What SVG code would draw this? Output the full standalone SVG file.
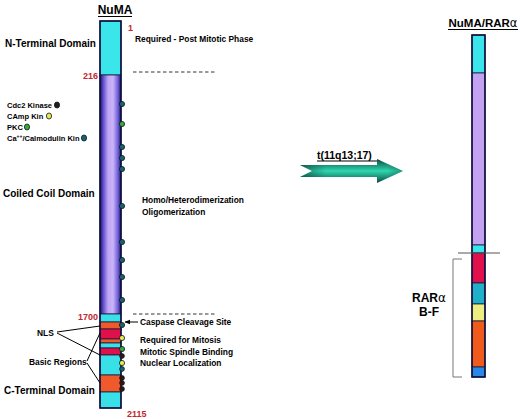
<svg xmlns="http://www.w3.org/2000/svg" width="520" height="419" viewBox="0 0 520 419">
<defs>
<linearGradient id="purp" x1="0" x2="1" y1="0" y2="0">
<stop offset="0" stop-color="#141460"/>
<stop offset="0.14" stop-color="#5a48c8"/>
<stop offset="0.38" stop-color="#bea6f4"/>
<stop offset="0.62" stop-color="#cab4f8"/>
<stop offset="0.86" stop-color="#6e5cd8"/>
<stop offset="1" stop-color="#141460"/>
</linearGradient>
<linearGradient id="arr" x1="0" x2="0" y1="0" y2="1">
<stop offset="0" stop-color="#0a4a40"/>
<stop offset="0.5" stop-color="#2fd6b0"/>
<stop offset="1" stop-color="#0a4a40"/>
</linearGradient>
<linearGradient id="arrh" x1="0" x2="1" y1="0" y2="0">
<stop offset="0" stop-color="#0a3a34" stop-opacity="0.6"/>
<stop offset="0.25" stop-color="#0a3a34" stop-opacity="0"/>
<stop offset="0.85" stop-color="#0a3a34" stop-opacity="0"/>
<stop offset="1" stop-color="#0a3a34" stop-opacity="0.4"/>
</linearGradient>
<marker id="ah" viewBox="0 0 10 10" refX="9" refY="5" markerWidth="6" markerHeight="6" orient="auto">
<path d="M0,1 L10,5 L0,9 z" fill="#000"/>
</marker>
</defs>
<style>
text{font-family:"Liberation Sans",Arial,sans-serif;font-weight:bold;fill:#000}
.num{fill:#c0282d;font-size:9px}
.lab{font-size:10px}
.note{font-size:8.4px}
.leg{font-size:7.5px}
.seg{stroke:#1a1a3a;stroke-width:0.8}
.dot{stroke:#0a1a20;stroke-width:0.8}
.dash{stroke:#000;stroke-width:0.8;stroke-dasharray:3.5,2.5;fill:none}
.ln{stroke:#000;stroke-width:1;fill:none}
</style>

<g id="numa">
<text x="115" y="14" font-size="12" text-anchor="middle">NuMA</text>
<line x1="98" y1="16.5" x2="132" y2="16.5" stroke="#000" stroke-width="1"/>
<rect x="100" y="21" width="21" height="54" fill="#3ae6ea" class="seg"/>
<rect x="100" y="75" width="21" height="239" fill="url(#purp)" class="seg"/>
<rect x="100" y="314" width="21" height="8" fill="#3ae0e8" class="seg"/>
<rect x="100" y="322" width="21" height="7" fill="#f05a2a" class="seg"/>
<rect x="100" y="329" width="21" height="10" fill="#e0104c" class="seg"/>
<rect x="100" y="339" width="21" height="4" fill="#f05a2a" class="seg"/>
<rect x="100" y="343" width="21" height="5" fill="#3ae0e8" class="seg"/>
<rect x="100" y="348" width="21" height="7" fill="#e0104c" class="seg"/>
<rect x="100" y="355" width="21" height="20" fill="#3ae0e8" class="seg"/>
<rect x="100" y="375" width="21" height="17" fill="#f05a2a" class="seg"/>
<rect x="100" y="392" width="21" height="16" fill="#3ae0e8" class="seg"/>
<rect x="100" y="21" width="21" height="387" fill="none" stroke="#101040" stroke-width="1.6"/>
</g>

<g id="sites">
<circle cx="122" cy="104" r="2.6" fill="#1e6070" class="dot"/>
<circle cx="122" cy="124" r="2.6" fill="#3aa838" class="dot"/>
<circle cx="122" cy="147" r="2.6" fill="#1e6070" class="dot"/>
<circle cx="122" cy="158" r="2.6" fill="#1e6070" class="dot"/>
<circle cx="122" cy="169" r="2.6" fill="#1e6070" class="dot"/>
<circle cx="122" cy="206" r="2.6" fill="#1e6070" class="dot"/>
<circle cx="122" cy="242" r="2.6" fill="#1e6070" class="dot"/>
<circle cx="122" cy="260" r="2.6" fill="#1e6070" class="dot"/>
<circle cx="122" cy="277" r="2.6" fill="#1e6070" class="dot"/>
<circle cx="122" cy="300" r="2.6" fill="#1e6070" class="dot"/>
<circle cx="122" cy="325" r="2.6" fill="#1e6070" class="dot"/>
<circle cx="122" cy="338" r="2.6" fill="#e8e850" class="dot"/>
<circle cx="122" cy="349" r="2.6" fill="#3aa838" class="dot"/>
<circle cx="122" cy="356" r="2.4" fill="#2a1a1a" class="dot"/>
<circle cx="122" cy="363" r="2.6" fill="#e8e850" class="dot"/>
<circle cx="122" cy="369" r="2.4" fill="#1e6070" class="dot"/>
<circle cx="122" cy="378" r="2.4" fill="#3a1010" class="dot"/>
<circle cx="122" cy="383" r="2.4" fill="#3a1010" class="dot"/>
<circle cx="122" cy="389" r="2.4" fill="#3a1010" class="dot"/>
</g>

<g id="legend">
<text x="7" y="108" class="leg">Cdc2 Kinase</text>
<ellipse cx="57" cy="105" rx="2.6" ry="3" fill="#2a1a1a" class="dot"/>
<text x="7" y="119" class="leg">CAmp Kin</text>
<ellipse cx="49" cy="116" rx="2.6" ry="3" fill="#e8e850" class="dot"/>
<text x="7" y="130" class="leg">PKC</text>
<ellipse cx="27" cy="127" rx="2.6" ry="3" fill="#3aa838" class="dot"/>
<text x="7" y="141" class="leg">Ca<tspan font-size="5" dy="-3">++</tspan><tspan dy="3">/Calmodulin Kin</tspan></text>
<ellipse cx="84" cy="138" rx="2.6" ry="3" fill="#1e6070" class="dot"/>
</g>

<g id="labels">
<text x="128" y="31" class="num">1</text>
<text x="98" y="79" class="num" text-anchor="end">216</text>
<text x="98" y="320" class="num" text-anchor="end">1700</text>
<text x="127" y="417" class="num">2115</text>
<text x="5" y="47" class="lab">N-Terminal Domain</text>
<text x="3" y="197" class="lab">Coiled Coil Domain</text>
<text x="4" y="394" class="lab">C-Terminal Domain</text>
<text x="135" y="42" class="note">Required - Post Mitotic Phase</text>
<text x="142" y="203" class="note">Homo/Heterodimerization</text>
<text x="142" y="215" class="note">Oligomerization</text>
<text x="140" y="325" class="note">Caspase Cleavage Site</text>
<text x="140" y="343" class="note">Required for Mitosis</text>
<text x="140" y="355" class="note">Mitotic Spindle Binding</text>
<text x="140" y="366" class="note">Nuclear Localization</text>
<text x="37" y="336" class="note">NLS</text>
<text x="29" y="365" class="note">Basic Regions</text>
</g>

<g id="connectors">
<line x1="133" y1="72" x2="217" y2="72" class="dash"/>
<line x1="133" y1="314" x2="217" y2="314" class="dash"/>
<line x1="138" y1="322" x2="125" y2="322" class="ln" marker-end="url(#ah)"/>
<line x1="57" y1="332" x2="100" y2="326" class="ln"/>
<line x1="57" y1="333" x2="100" y2="355" class="ln"/>
<line x1="87" y1="361" x2="100" y2="333" class="ln"/>
<line x1="87" y1="363" x2="100" y2="383" class="ln"/>
</g>

<g id="translocation">
<text x="317" y="159" font-size="10.5">t(11q13;17)</text>
<line x1="317" y1="161" x2="380" y2="161" stroke="#000" stroke-width="1"/>
<path d="M300,165 L377,165 L377,159 L403,171 L377,183 L377,177 L300,177 L312,171 Z" fill="url(#arr)"/>
<path d="M300,165 L377,165 L377,159 L403,171 L377,183 L377,177 L300,177 L312,171 Z" fill="url(#arrh)"/>
</g>

<g id="fusion">
<text x="483" y="27" font-size="11.5" text-anchor="middle">NuMA/RAR<tspan font-family="'DejaVu Sans',sans-serif" font-weight="normal">α</tspan></text>
<line x1="448" y1="29.5" x2="518" y2="29.5" stroke="#000" stroke-width="1"/>
<rect x="472" y="35" width="13" height="38" fill="#3ae6ea" class="seg"/>
<rect x="472" y="73" width="13" height="172" fill="#c4a2f2" class="seg"/>
<rect x="472" y="245" width="13" height="8" fill="#3ae6ea" class="seg"/>
<rect x="472" y="253" width="13" height="30" fill="#e0104c" class="seg"/>
<rect x="472" y="283" width="13" height="21" fill="#20b0c8" class="seg"/>
<rect x="472" y="304" width="13" height="17" fill="#eeee80" class="seg"/>
<rect x="472" y="321" width="13" height="46" fill="#f05a1a" class="seg"/>
<rect x="472" y="367" width="13" height="10" fill="#2a88e8" class="seg"/>
<rect x="472" y="35" width="13" height="342" fill="none" stroke="#101040" stroke-width="1.6"/>
<line x1="458" y1="253" x2="500" y2="253" stroke="#555" stroke-width="1"/>
<path d="M462,259 L453,259 L453,377 L462,377" fill="none" stroke="#777" stroke-width="1"/>
<text x="429" y="302" font-size="12" text-anchor="middle">RAR<tspan font-family="'DejaVu Sans',sans-serif" font-weight="normal">α</tspan></text>
<text x="429" y="316" font-size="12" text-anchor="middle">B-F</text>
</g>
</svg>
